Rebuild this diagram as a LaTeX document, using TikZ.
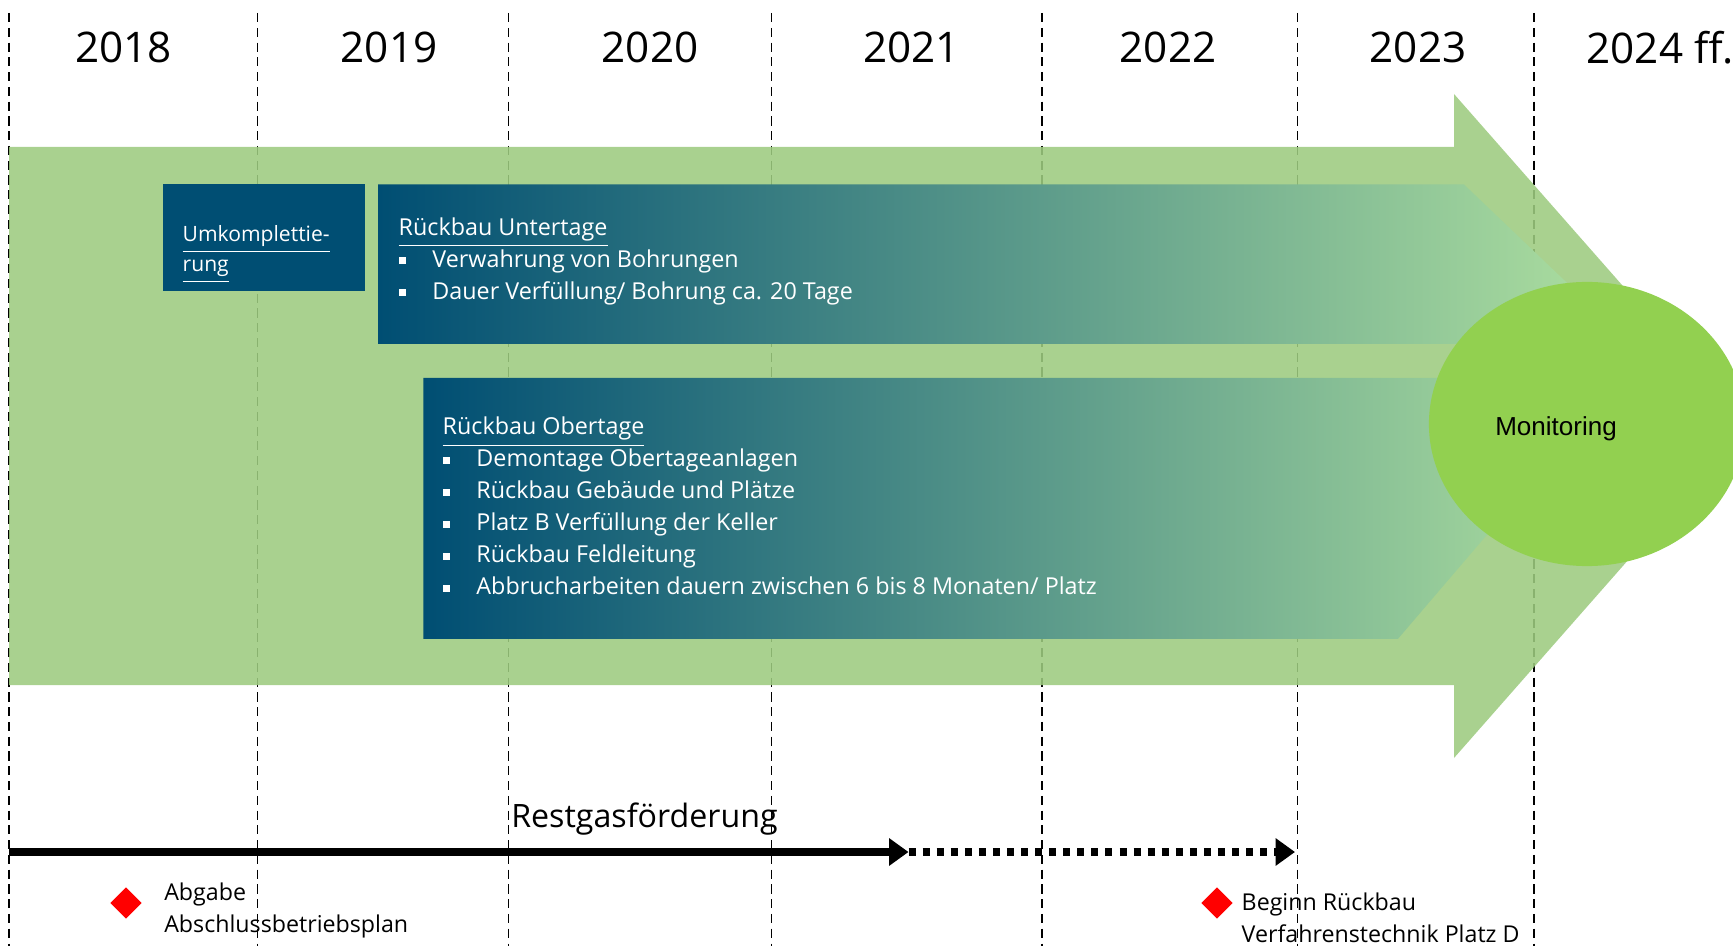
\documentclass[tikz,border=0pt]{standalone}
\usepackage{fontspec}
\setmainfont{Open Sans}
\newfontfamily\arialfont{Liberation Sans}
\usepackage{xcolor}
\usepackage{tikz}
\usetikzlibrary{shapes.geometric,arrows.meta,positioning}

\definecolor{arrowgreen}{HTML}{9DCB7F}
\definecolor{boxblue}{HTML}{004E73}
\definecolor{boxteal}{HTML}{468A82}
\definecolor{boxlight}{HTML}{B0E1A0}
\definecolor{monigreen}{HTML}{92D050}

\newcommand{\bul}{\rule[0.25ex]{2pt}{2pt}}
\newcommand{\bitem}[1]{\\\makebox[9.6pt][l]{\bul}#1}

\begin{document}
\begin{tikzpicture}[
        x=0.01cm, y=-0.01cm,
        yearline/.style={dashed, dash pattern=on 2.6pt off 1.6pt, line width=0.5pt, black},
        year/.style={font=\fontsize{12}{14}\selectfont, inner sep=0},
        bigarrow/.style={fill=arrowgreen, fill opacity=0.88},
        phase/.style={left color=boxblue, middle color=boxteal, right color=boxlight},
        boxtext/.style={text=white, align=left, inner sep=0, anchor=west, font=\fontsize{6.63}{9.1}\selectfont},
        note/.style={align=left, inner sep=0, anchor=west, font=\fontsize{6.6}{9.1}\selectfont},
        milestone/.style={diamond, fill=red, inner sep=0, minimum width=9pt, minimum height=9pt},
        gas/.style={line width=2.2pt, -{Triangle[length=5.5pt,width=7.5pt]}}
    ]
    \useasboundingbox (0,0) rectangle (1733,946);
    \clip (0,0) rectangle (1733,946);

    % Year separators
    \draw[yearline] (9,13) -- (9,946);
    \draw[yearline] (257.5,13) -- (257.5,946);
    \draw[yearline] (508.4,13) -- (508.4,946);
    \draw[yearline] (771.4,13) -- (771.4,946);
    \draw[yearline] (1042.2,13) -- (1042.2,946);
    \draw[yearline] (1297.5,13) -- (1297.5,946);
    \draw[yearline] (1534,13) -- (1534,946);

    % Years
    \node[year] (y2018) at (123.8,47.5) {2018};
    \node[year] (y2019) at (389,47.5) {2019};
    \node[year] (y2020) at (650,47.5) {2020};
    \node[year] (y2021) at (911.8,47.5) {2021};
    \node[year] (y2022) at (1168,47.5) {2022};
    \node[year] (y2023) at (1418,47.5) {2023};
    \node[year, anchor=west] (y2024) at (1586,47.5) {2024 ff.};

    % Big background arrow
    \path[bigarrow] (9,147) -- (1454,147) -- (1454,94) -- (1746,426)
        -- (1454,758) -- (1454,685) -- (9,685) -- cycle;

    % Umkomplettierung
    \fill[boxblue] (162.5,184.5) rectangle (365,291);
    \node[boxtext, font=\fontsize{6}{8.5}\selectfont] (umkomp) at (182,254.5)
        {\underline{Umkomplettie-}\\\underline{rung}};

    % Rueckbau Untertage
    \shade[phase] (378,184.5) -- (1464,184.5) -- (1631,344) -- (378,344) -- cycle;
    \node[boxtext] (untertage) at (398,261)
        {\underline{Rückbau Untertage}
         \bitem{Verwahrung von Bohrungen}
         \bitem{Dauer Verfüllung/ Bohrung ca. 20 Tage}};

    % Rueckbau Obertage
    \shade[phase] (423.3,378) -- (1621,378) -- (1398,638.8) -- (423.3,638.8) -- cycle;
    \node[boxtext] (obertage) at (442,506)
        {\underline{Rückbau Obertage}
         \bitem{Demontage Obertageanlagen}
         \bitem{Rückbau Gebäude und Plätze}
         \bitem{Platz B Verfüllung der Keller}
         \bitem{Rückbau Feldleitung}
         \bitem{Abbrucharbeiten dauern zwischen 6 bis 8 Monaten/ Platz}};

    % Monitoring
    \node[ellipse, fill=monigreen, minimum width=3.16cm, minimum height=2.84cm] (monitoring) at (1587,424) {};
    \node[font=\arialfont\fontsize{7.4}{9}\selectfont, inner sep=0] (monitext) at (1556,428.5) {Monitoring};

    % Restgasfoerderung
    \coordinate (gasstart) at (9,852);
    \coordinate (gasmid) at (908.5,852);
    \coordinate (gasend) at (1295,852);
    \draw[gas] (gasstart) -- (gasmid);
    \draw[gas, dash pattern=on 2pt off 2pt] (gasmid) -- (gasend);
    \node[font=\fontsize{9.15}{11}\selectfont, inner sep=0, anchor=west] (restgas) at (510.6,819) {Restgasförderung};

    % Milestones
    \node[milestone] (abgabe) at (126,903) {};
    \node[note] (abgabetext) at (163.6,910) {Abgabe\\Abschlussbetriebsplan};
    \node[milestone] (beginn) at (1217,903) {};
    \node[note] (beginntext) at (1241,918) {Beginn Rückbau\\Verfahrenstechnik Platz D};

\end{tikzpicture}
\end{document}
